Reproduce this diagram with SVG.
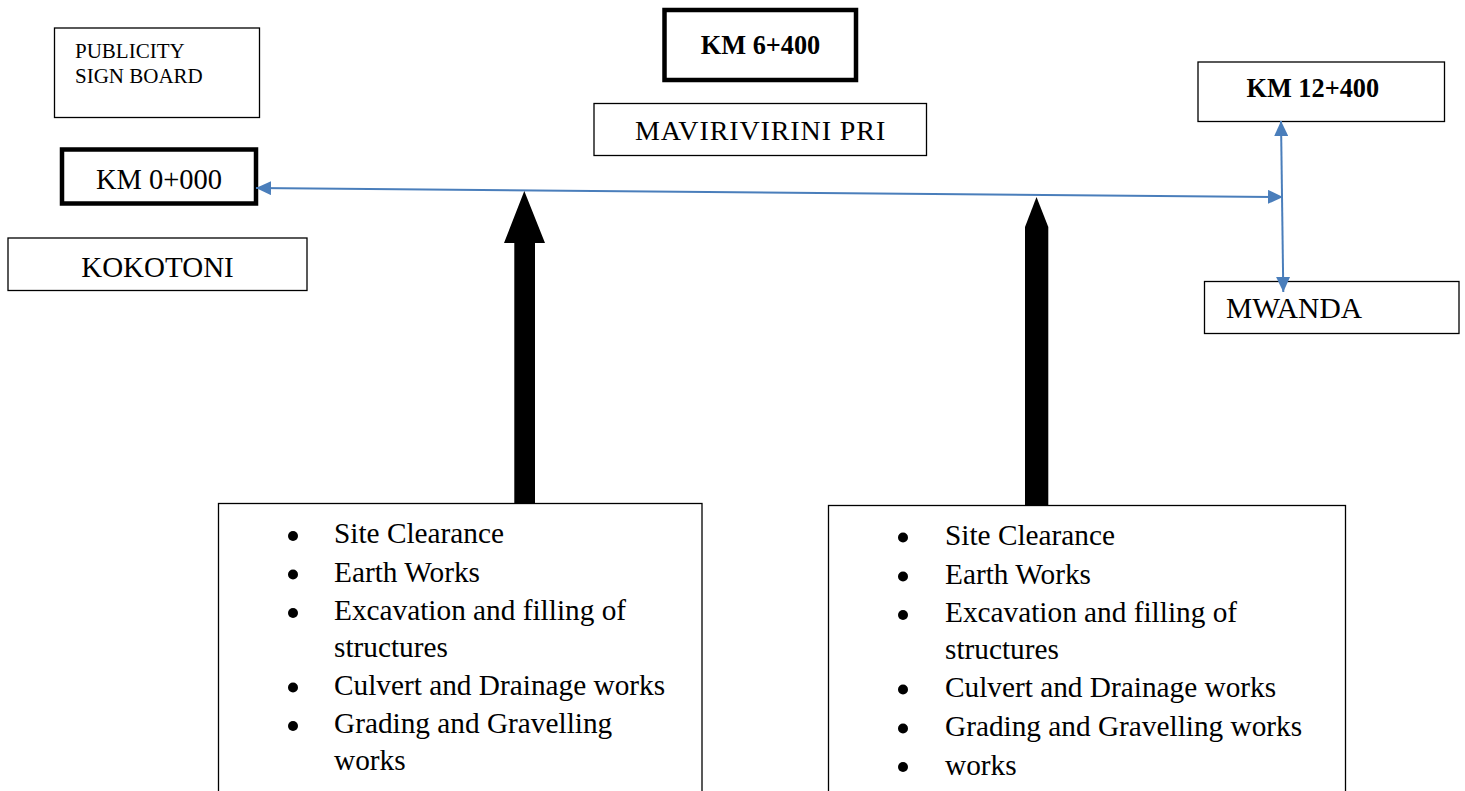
<svg xmlns="http://www.w3.org/2000/svg" width="1465" height="791" viewBox="0 0 1465 791">
<style>
.box{fill:#fff;stroke:#000;stroke-width:1.3}
.thick{fill:#fff;stroke:#000;stroke-width:4.5}
.t{font-family:"Liberation Serif","Times New Roman",serif;fill:#000}
.blue{stroke:#4A7EBB;stroke-width:2;fill:none}
.big{fill:#000}
</style>
<defs>
<marker id="ah" markerUnits="userSpaceOnUse" markerWidth="16" markerHeight="14" refX="15" refY="7" orient="auto-start-reverse" viewBox="0 0 16 14">
<path d="M0,0 L15,7 L0,14 Z" fill="#4A7EBB"/>
</marker>
</defs>
<rect width="1465" height="791" fill="#fff"/>

<g id="publicity">
<rect class="box" x="54.5" y="28" width="205" height="89.5"/>
<text class="t" x="75" y="58" font-size="21">PUBLICITY</text>
<text class="t" x="75" y="82.5" font-size="21">SIGN BOARD</text>
</g>

<g id="km0">
<rect class="thick" x="62" y="149.5" width="194" height="54"/>
<text class="t" x="159" y="188.5" font-size="28.5" text-anchor="middle">KM 0+000</text>
</g>

<g id="kokotoni">
<rect class="box" x="8" y="238" width="299" height="52.5"/>
<text class="t" x="157.5" y="276.5" font-size="29" text-anchor="middle">KOKOTONI</text>
</g>

<g id="km6">
<rect class="thick" x="664.5" y="10" width="191.5" height="70" stroke-width="5"/>
<text class="t" x="760.5" y="54" font-size="26.3" font-weight="bold" text-anchor="middle">KM 6+400</text>
</g>

<g id="mavirivirini">
<rect class="box" x="594" y="103.5" width="332.5" height="52"/>
<text class="t" x="635" y="140" font-size="28" letter-spacing="0.9">MAVIRIVIRINI PRI</text>
</g>

<g id="km12">
<rect class="box" x="1198" y="62" width="246.5" height="59.5"/>
<text class="t" x="1246.5" y="96.5" font-size="26.3" font-weight="bold">KM 12+400</text>
</g>

<g id="mwanda">
<rect class="box" x="1204.5" y="281.5" width="254.5" height="52"/>
<text class="t" x="1226" y="318" font-size="29.5">MWANDA</text>
</g>

<g id="connectors">
<line class="blue" x1="256" y1="188" x2="1283" y2="197" marker-start="url(#ah)" marker-end="url(#ah)"/>
<line class="blue" x1="1281" y1="121" x2="1283.3" y2="292" marker-start="url(#ah)" marker-end="url(#ah)"/>
<path class="big" d="M524.3,191 L545,243 L535,243 L535,504 L514.3,504 L514.3,243 L504,243 Z"/>
<path class="big" d="M1036.5,197 L1048.3,227 L1048.3,506 L1025,506 L1025,227 Z"/>
</g>

<g id="list1">
<rect class="box" x="218.5" y="503.5" width="483.5" height="300"/>
<g fill="#000">
<circle cx="293" cy="536" r="5"/>
<circle cx="293" cy="574.5" r="5"/>
<circle cx="293" cy="613" r="5"/>
<circle cx="293" cy="687.5" r="5"/>
<circle cx="293" cy="726" r="5"/>
</g>
<g class="t" font-size="29.3">
<text x="334" y="543">Site Clearance</text>
<text x="334" y="581.5">Earth Works</text>
<text x="334" y="620">Excavation and filling of</text>
<text x="334" y="656.5">structures</text>
<text x="334" y="694.5">Culvert and Drainage works</text>
<text x="334" y="733">Grading and Gravelling</text>
<text x="334" y="769.5">works</text>
</g>
</g>

<g id="list2">
<rect class="box" x="828.5" y="505.5" width="517" height="300"/>
<g fill="#000">
<circle cx="903" cy="537.5" r="5"/>
<circle cx="903" cy="576.5" r="5"/>
<circle cx="903" cy="615" r="5"/>
<circle cx="903" cy="689.5" r="5"/>
<circle cx="903" cy="728.5" r="5"/>
<circle cx="903" cy="767" r="5"/>
</g>
<g class="t" font-size="29.3">
<text x="945" y="544.5">Site Clearance</text>
<text x="945" y="583.5">Earth Works</text>
<text x="945" y="622">Excavation and filling of</text>
<text x="945" y="658.5">structures</text>
<text x="945" y="697">Culvert and Drainage works</text>
<text x="945" y="736">Grading and Gravelling works</text>
<text x="945" y="774.5">works</text>
</g>
</g>
</svg>
